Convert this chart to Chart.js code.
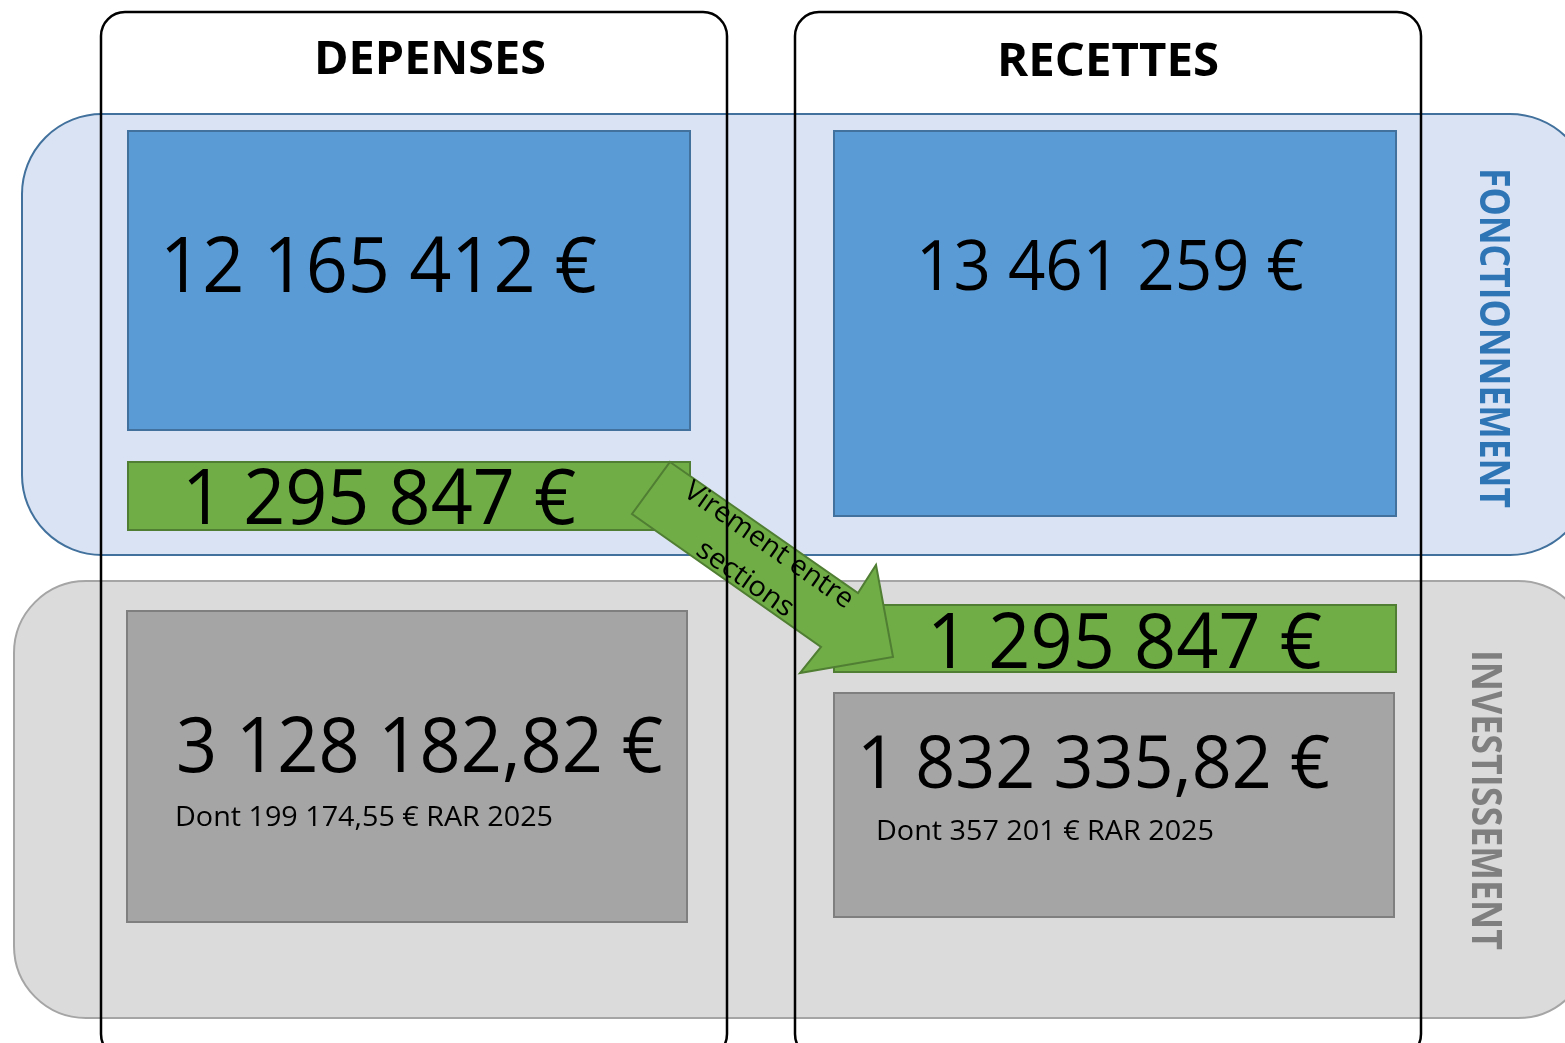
<!DOCTYPE html>
<html lang="fr">
<head>
<meta charset="utf-8">
<script src="https://cdn.jsdelivr.net/npm/chart.js@4/dist/chart.umd.min.js"></script>
<style>
  body { margin: 0; background: #fff; }
  #wrap { width: 1565px; height: 1043px; position: relative; }
</style>
</head>
<body>
<div id="wrap"><canvas id="schema"></canvas></div>
<script>
// donnees du budget
const colonnes = ['DEPENSES', 'RECETTES'];
const sections = ['FONCTIONNEMENT', 'INVESTISSEMENT'];
const depenses = [12165412, 3128182.82];
const recettes = [13461259, 1832335.82];
const virement = 1295847;
const restesARealiser = [199174.55, 357201];
const anneeRAR = 2025;
const virementLibelle = ['Virement entre', 'sections'];

function fmt(v) {
  let [i, d] = v.toFixed(2).split('.');
  i = i.replace(/\B(?=(\d{3})+(?!\d))/g, ' ');
  return d === '00' ? i + ' €' : i + ',' + d + ' €';
}

// mise en page (unites de l'echelle = pixels du schema)
const bandes = [
  { x0: 22, x1: 1590, y0: 114, y1: 555, r: 80, fill: '#dae3f3', stroke: '#41719c' },
  { x0: 14, x1: 1590, y0: 581, y1: 1018, r: 72, fill: '#dbdbdb', stroke: '#a5a5a5' }
];
const cadres = [
  { x0: 101, x1: 727, y0: 12, y1: 1058, r: 24, titreX: 430, titreY: 74, titreW: 232 },
  { x0: 795, x1: 1421, y0: 12, y1: 1058, r: 24, titreX: 1108, titreY: 76, titreW: 222 }
];
const BLEU = { fill: '#5b9bd5', stroke: '#41719c' };
const VERT = { fill: '#70ad47', stroke: '#507e32' };
const GRIS = { fill: '#a5a5a5', stroke: '#7f7f7f' };

const boites = [
  { x0: 128, x1: 690, y0: 131, y1: 430, c: BLEU, txt: fmt(depenses[0]), tx: 160, ty: 292, size: 76, w: 437 },
  { x0: 128, x1: 690, y0: 462, y1: 530, c: VERT, txt: fmt(virement), tx: 182, ty: 524, size: 76, w: 394 },
  { x0: 834, x1: 1396, y0: 131, y1: 516, c: BLEU, txt: fmt(recettes[0]), tx: 916, ty: 290, size: 70, w: 388 },
  { x0: 834, x1: 1396, y0: 605, y1: 672, c: VERT, txt: fmt(virement), tx: 927, ty: 668, size: 76, w: 395 },
  { x0: 127, x1: 687, y0: 611, y1: 922, c: GRIS, txt: fmt(depenses[1]), tx: 176, ty: 772, size: 76, w: 487,
    sub: 'Dont ' + fmt(restesARealiser[0]) + ' RAR ' + anneeRAR, sx: 175, sy: 826, sw: 378 },
  { x0: 834, x1: 1394, y0: 693, y1: 917, c: GRIS, txt: fmt(recettes[1]), tx: 857, ty: 788, size: 74, w: 473,
    sub: 'Dont ' + fmt(restesARealiser[1]) + ' RAR ' + anneeRAR, sx: 876, sy: 840, sw: 338 }
];
const fleche = [[670, 462], [858, 593], [876, 565], [893, 657], [800, 673], [821, 647], [632, 514]];
const etiquettes = [
  { x: 1480, y: 338, w: 340, color: '#2e75b6' },
  { x: 1472, y: 800, w: 300, color: '#7f7f7f' }
];

const FONT = '"Open Sans", "Liberation Sans", sans-serif';

function texte(ctx, s, x, y, size, weight, color, width, align, baseline) {
  ctx.save();
  ctx.font = `${weight} ${size}px ${FONT}`;
  const w = ctx.measureText(s).width;
  const k = width ? width / w : 1;
  ctx.translate(x, y);
  ctx.scale(k, 1);
  ctx.fillStyle = color;
  ctx.textAlign = align || 'left';
  ctx.textBaseline = baseline || 'alphabetic';
  ctx.fillText(s, 0, 0);
  ctx.restore();
}

function arrondi(ctx, x0, y0, x1, y1, r) {
  ctx.beginPath();
  ctx.roundRect(x0, y0, x1 - x0, y1 - y0, r);
}

const schemaPlugin = {
  id: 'schema',
  afterDatasetsDraw(chart) {
    const ctx = chart.ctx;
    const sx = chart.scales.x, sy = chart.scales.y;
    const X = v => sx.getPixelForValue(v);
    const Y = v => sy.getPixelForValue(v);

    // bandes fonctionnement / investissement
    bandes.forEach(b => {
      arrondi(ctx, X(b.x0), Y(b.y0), X(b.x1), Y(b.y1), b.r);
      ctx.fillStyle = b.fill;
      ctx.fill();
      ctx.lineWidth = 2;
      ctx.strokeStyle = b.stroke;
      ctx.stroke();
    });

    // boites de montants
    boites.forEach(b => {
      ctx.beginPath();
      ctx.rect(X(b.x0), Y(b.y0), X(b.x1) - X(b.x0), Y(b.y1) - Y(b.y0));
      ctx.fillStyle = b.c.fill;
      ctx.fill();
      ctx.lineWidth = 2;
      ctx.strokeStyle = b.c.stroke;
      ctx.stroke();
      texte(ctx, b.txt, X(b.tx), Y(b.ty), b.size, 400, '#000', b.w);
      if (b.sub) texte(ctx, b.sub, X(b.sx), Y(b.sy), 28, 400, '#000', b.sw);
    });

    // fleche du virement
    ctx.beginPath();
    fleche.forEach(([px, py], i) => i ? ctx.lineTo(X(px), Y(py)) : ctx.moveTo(X(px), Y(py)));
    ctx.closePath();
    ctx.fillStyle = VERT.fill;
    ctx.fill();
    ctx.lineWidth = 2;
    ctx.strokeStyle = VERT.stroke;
    ctx.stroke();

    ctx.save();
    ctx.translate(X(757), Y(562));
    ctx.rotate(35 * Math.PI / 180);
    texte(ctx, virementLibelle[0], 0, -20, 28, 400, '#000', 200, 'center', 'middle');
    texte(ctx, virementLibelle[1], 0, 21, 28, 400, '#000', 112, 'center', 'middle');
    ctx.restore();

    // etiquettes verticales
    etiquettes.forEach((e, i) => {
      ctx.save();
      ctx.translate(X(e.x), Y(e.y));
      ctx.rotate(Math.PI / 2);
      texte(ctx, sections[i], 0, 0, 42, 700, e.color, e.w, 'center');
      ctx.restore();
    });

    // colonnes depenses / recettes
    cadres.forEach((c, i) => {
      arrondi(ctx, X(c.x0), Y(c.y0), X(c.x1), Y(c.y1), c.r);
      ctx.lineWidth = 2.5;
      ctx.strokeStyle = '#000';
      ctx.stroke();
      texte(ctx, colonnes[i], X(c.titreX), Y(c.titreY), 46, 700, '#000', c.titreW, 'center');
    });
  }
};

new Chart(document.getElementById('schema'), {
  type: 'scatter',
  data: { datasets: [] },
  options: {
    responsive: true,
    maintainAspectRatio: false,
    animation: false,
    layout: { padding: 0 },
    plugins: { legend: { display: false }, tooltip: { enabled: false } },
    scales: {
      x: { type: 'linear', min: 0, max: 1565, display: false },
      y: { type: 'linear', min: 0, max: 1043, reverse: true, display: false }
    }
  },
  plugins: [schemaPlugin]
});
</script>
</body>
</html>
